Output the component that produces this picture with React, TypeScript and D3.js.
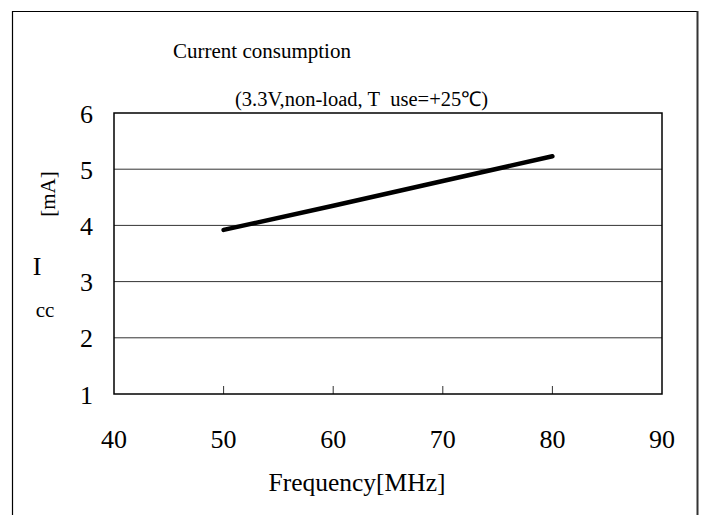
import * as d3 from 'd3';

const freqs = [50, 60, 70, 80];
const iccValues = [3.92, 4.35, 4.79, 5.23];
const xTicks = [40, 50, 60, 70, 80, 90];
const yTicks = [1, 2, 3, 4, 5, 6];

const W = 705;
const H = 515;
const left = 114, right = 662, top = 113, bottom = 394;

export default function App() {
  const x = d3.scaleLinear().domain([40, 90]).range([left, right]);
  const y = d3.scaleLinear().domain([1, 6]).range([bottom, top]);
  const pts = freqs.map((f, i) => [f, iccValues[i]] as [number, number]);
  const line = d3.line<[number, number]>().x(d => x(d[0])).y(d => y(d[1]));
  const font = "'Liberation Serif', 'Times New Roman', serif";

  return (
    <svg width={W} height={H} style={{position: 'absolute', left: 0, top: 0, background: '#fff', fontFamily: font}}>
      {/* outer frame, no bottom edge */}
      <path d={`M12.5,${H} V11.5 H697`} fill="none" stroke="#000" strokeWidth={1.2} />
      <line x1={697.5} y1={11} x2={697.5} y2={H} stroke="#333" strokeWidth={2} />

      <text x={173} y={58} fontSize={21}>Current consumption</text>
      <text x={235} y={106} fontSize={20.5} style={{whiteSpace: 'pre'}}>{'(3.3V,non-load, T\u00a0\u00a0use=+25\u2103)'}</text>

      {/* gridlines */}
      {yTicks.slice(1, -1).map(t => (
        <line key={t} x1={left} x2={right} y1={y(t)} y2={y(t)} stroke="#333" strokeWidth={1} />
      ))}
      {/* bottom ticks */}
      {xTicks.slice(1, -1).map(t => (
        <line key={t} x1={x(t)} x2={x(t)} y1={bottom} y2={bottom - 8} stroke="#333" strokeWidth={1} />
      ))}
      <rect x={left} y={top} width={right - left} height={bottom - top} fill="none" stroke="#000" strokeWidth={1.5} />

      <path d={line(pts) ?? ''} fill="none" stroke="#000" strokeWidth={4.5} strokeLinecap="round" />

      {yTicks.map(t => (
        <text key={t} x={93} y={y(t) + 9.5} fontSize={26} textAnchor="end">{t}</text>
      ))}
      {xTicks.map(t => (
        <text key={t} x={x(t)} y={448} fontSize={26} textAnchor="middle">{t}</text>
      ))}

      <text x={357} y={491} fontSize={25.5} textAnchor="middle">Frequency[MHz]</text>

      <text x={37} y={275} fontSize={26} textAnchor="middle">I</text>
      <text x={45} y={317} fontSize={21} textAnchor="middle">cc</text>
      <text transform="translate(55,194) rotate(-90)" fontSize={21} textAnchor="middle">[mA]</text>
    </svg>
  );
}
